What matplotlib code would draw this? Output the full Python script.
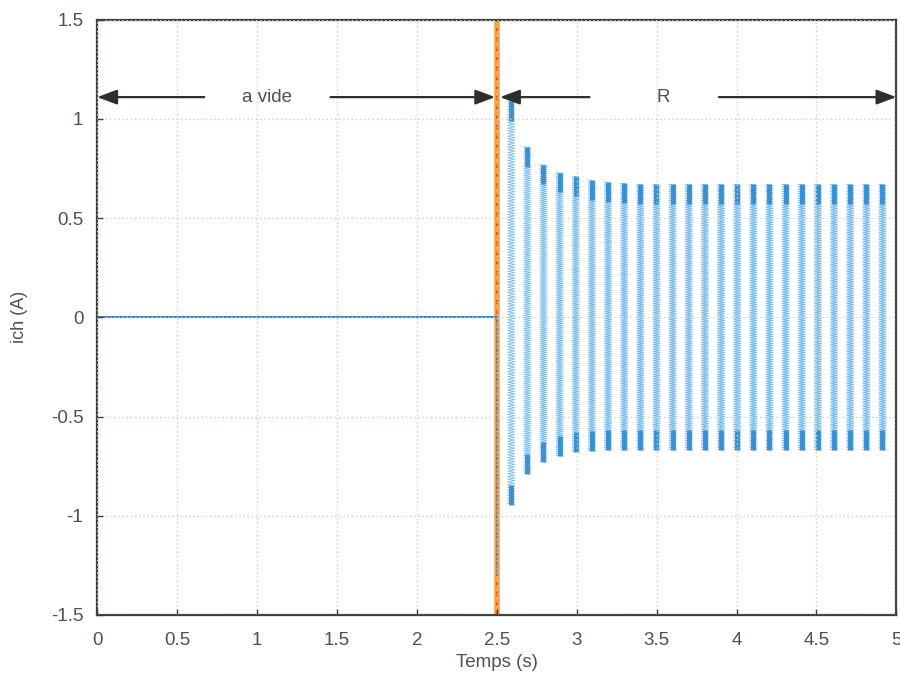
import numpy as np
import matplotlib.pyplot as plt

plt.rcParams["font.family"] = ["Liberation Sans", "DejaVu Sans"]

# load current ich (A): zero while unloaded, then oscillating bursts once R is connected
t_switch = 2.5
burst_period = 0.101
first_burst = 2.59
burst_top = [1.09, 0.86, 0.77, 0.73, 0.71, 0.69, 0.68, 0.675, 0.67, 0.67, 0.67, 0.67,
             0.67, 0.67, 0.67, 0.67, 0.67, 0.67, 0.67, 0.67, 0.67, 0.67, 0.67, 0.67]
burst_bottom = [-0.945, -0.79, -0.73, -0.70, -0.68, -0.675, -0.67, -0.67, -0.67, -0.67, -0.67, -0.67,
                -0.67, -0.67, -0.67, -0.67, -0.67, -0.67, -0.67, -0.67, -0.67, -0.67, -0.67, -0.67]
switch_dip = -1.3

xticks = [0, 0.5, 1, 1.5, 2, 2.5, 3, 3.5, 4, 4.5, 5]
xticklabels = ["0", "0.5", "1", "1.5", "2", "2.5", "3", "3.5", "4", "4.5", "5"]
yticks = [-1.5, -1, -0.5, 0, 0.5, 1, 1.5]
yticklabels = ["-1.5", "-1", "-0.5", "0", "0.5", "1", "1.5"]

text_col = "#4a554a"
axis_col = "#3a423a"
light_blue = "#6fb6e9"
dark_blue = "#2f8ad2"

fig = plt.figure(figsize=(9, 6.81), dpi=100)
ax = fig.add_axes([0.108, 0.097, 0.888, 0.874])

# switching instant
ax.axvline(t_switch, color="#f5a03a", lw=4, zorder=1)
ax.axvline(t_switch, color="#e8503a", lw=1.4, ls=(0, (2, 3)), zorder=1)

# unloaded part and the dip at the switch
ax.plot([0, t_switch], [0, 0], color=dark_blue, lw=1.5, zorder=2)
ax.plot([t_switch + 0.004, t_switch + 0.004], [0, switch_dip], color=dark_blue, lw=1.2, alpha=0.7, zorder=2)

# each burst: fast side-to-side sweep from its top to its bottom
width = 0.045
n_steps = 300
for k, (hi, lo) in enumerate(zip(burst_top, burst_bottom)):
    c = first_burst + k * burst_period
    ys = np.linspace(hi, lo, n_steps)
    xs = np.where(np.arange(n_steps) % 2 == 0, c - width / 2, c + width / 2)
    ax.plot(xs, ys, color=light_blue, lw=0.6, alpha=0.9, zorder=2)
    ax.plot([c, c], [hi, hi - 0.1], color=dark_blue, lw=3.5, alpha=0.9, solid_capstyle="butt", zorder=2)
    ax.plot([c, c], [lo, lo + 0.1], color=dark_blue, lw=3.5, alpha=0.9, solid_capstyle="butt", zorder=2)

ax.set_xlim(0, 5)
ax.set_ylim(-1.5, 1.5)
ax.set_xticks(xticks)
ax.set_xticklabels(xticklabels)
ax.set_yticks(yticks)
ax.set_yticklabels(yticklabels)
ax.tick_params(direction="in", length=4, width=1, colors=axis_col, labelcolor=text_col,
               labelsize=13.5, top=False, right=False)
ax.tick_params(axis="x", pad=12)
ax.tick_params(axis="y", pad=10)
ax.grid(True, color="#c9d4b4", ls=(0, (1, 2)), lw=1.0)
ax.set_axisbelow(False)
for s in ax.spines.values():
    s.set_color(axis_col)
    s.set_linewidth(1.6)

ax.set_xlabel("Temps (s)", color=text_col, fontsize=13.5, labelpad=4)
ax.set_ylabel("ich (A)", color=text_col, fontsize=13, labelpad=16)

# regime arrows, broken where the labels sit
arrow_y = 1.11
head = dict(arrowstyle="-|>,head_length=1.2,head_width=0.45", color="#2b302b", lw=1.6,
            shrinkA=0, shrinkB=0)
ax.annotate("", xy=(0.0, arrow_y), xytext=(0.67, arrow_y), arrowprops=head)
ax.annotate("", xy=(2.49, arrow_y), xytext=(1.46, arrow_y), arrowprops=head)
ax.annotate("", xy=(2.52, arrow_y), xytext=(3.08, arrow_y), arrowprops=head)
ax.annotate("", xy=(5.0, arrow_y), xytext=(3.89, arrow_y), arrowprops=head)
ax.text(1.06, arrow_y, "a vide", ha="center", va="center", fontsize=13.5, color=text_col)
ax.text(3.54, arrow_y, "R", ha="center", va="center", fontsize=13.5, color=text_col)

fig.savefig("out.png", dpi=100, facecolor="white")
